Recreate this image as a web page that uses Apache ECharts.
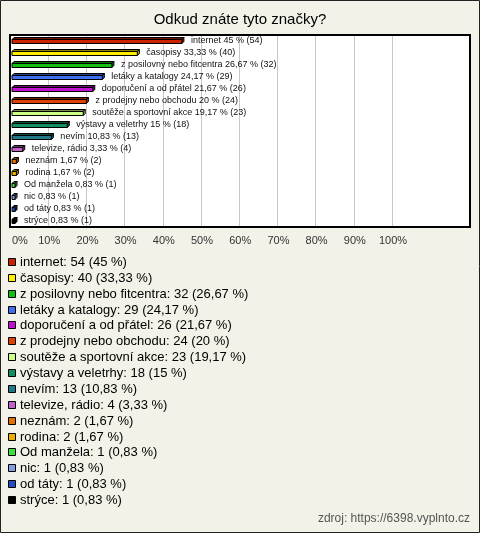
<!DOCTYPE html>
<html><head><meta charset="utf-8">
<script src="https://cdn.jsdelivr.net/npm/echarts@6/dist/echarts.min.js"></script>
<style>html,body{margin:0;padding:0;background:#f2f2e9;}#c{width:480px;height:533px;}</style>
</head><body><div id="c"></div>
<script>
var categories = ["internet","časopisy","z posilovny nebo fitcentra","letáky a katalogy","doporučení a od přátel","z prodejny nebo obchodu","soutěže a sportovní akce","výstavy a veletrhy","nevím","televize, rádio","neznám","rodina","Od manžela","nic","od táty","strýce"];
var counts = [54,40,32,29,26,24,23,18,13,4,2,2,1,1,1,1];
var pctText = ["45","33,33","26,67","24,17","21,67","20","19,17","15","10,83","3,33","1,67","1,67","0,83","0,83","0,83","0,83"];
var pctValues = [45,33.33,26.67,24.17,21.67,20,19.17,15,10.83,3.33,1.67,1.67,0.83,0.83,0.83,0.83];
var colors = ["#cc2200","#ffee00","#11c011","#4070f0","#c010d0","#e04000","#ccff88","#109060","#207888","#c060c8","#e07000","#e8b000","#40e040","#80a0e0","#2050c0","#000000"];
var xTicks = ["0%","10%","20%","30%","40%","50%","60%","70%","80%","90%","100%"];
var title = "Odkud znáte tyto značky?";
var source = "zdroj: https://6398.vyplnto.cz";

var FONT = 'Arial, "Liberation Sans", sans-serif';
function darker(hex, f){
  var n = parseInt(hex.slice(1),16);
  var r=(n>>16)&255,g=(n>>8)&255,b=n&255;
  r=Math.round(r*f);g=Math.round(g*f);b=Math.round(b*f);
  return 'rgb('+r+','+g+','+b+')';
}
var chart = echarts.init(document.getElementById('c'));
var graphics = [
  {type:'rect', shape:{x:0.5,y:0.5,width:479,height:532}, style:{fill:'#f2f2e9',stroke:'#222',lineWidth:1}, z:-10},
  {type:'rect', shape:{x:10,y:35,width:460,height:192}, style:{fill:'#ffffff'}, z:-5},
  {type:'rect', shape:{x:10,y:35,width:460,height:192}, style:{fill:null,stroke:'#000',lineWidth:2}, z:100},
  {type:'text', x:240, y:20, style:{text:title, font:'15px '+FONT, fill:'#000', textAlign:'center', textVerticalAlign:'middle'}},
  {type:'text', x:470, y:519, style:{text:source, font:'12px '+FONT, fill:'#555', textAlign:'right', textVerticalAlign:'middle'}}
];
for (var i=0;i<categories.length;i++){
  var y = 262 + i*15.87;
  graphics.push({type:'rect', shape:{x:8.5,y:Math.round(y)-3.5,width:7,height:7}, style:{fill:colors[i],stroke:'#000',lineWidth:1}});
  graphics.push({type:'text', x:20, y:Math.round(y)+0.5, style:{text:categories[i]+': '+counts[i]+' ('+pctText[i]+' %)', font:'13px '+FONT, fill:'#000', textVerticalAlign:'middle'}});
}
var data = pctValues.map(function(v,i){return [v,i];});
chart.setOption({
  animation:false,
  backgroundColor:'#f2f2e9',
  graphic: graphics,
  grid:{left:10, right:88, top:35, bottom:306},
  xAxis:{type:'value', min:0, max:100, interval:10,
    axisLine:{show:false}, axisTick:{show:false},
    axisLabel:{margin:8, fontSize:11, fontFamily:FONT, color:'#333', alignMinLabel:'left', padding:[0,0,0,2], formatter:function(v){return xTicks[Math.round(v/10)];}},
    splitLine:{show:true, lineStyle:{color:'#c8c8c8', width:1}}},
  yAxis:{type:'category', data:categories, inverse:true, show:false},
  series:[{
    type:'custom',
    data:data,
    encode:{x:0,y:1},
    z:5,
    renderItem:function(params, api){
      var idx = api.value(1);
      var v = api.value(0);
      var p0 = api.coord([0, idx]);
      var p1 = api.coord([v, idx]);
      var d = 2;
      var x0 = p0[0]+2, x1 = Math.max(p1[0], x0+3);
      var cy = Math.round(p0[1]);
      var top = cy-1.5, bot = cy+2.5;
      var c = colors[idx];
      var st = {stroke:'#000', lineWidth:1};
      return {type:'group', children:[
        {type:'polygon', shape:{points:[[x0,top],[x0+d,top-d],[x1+d,top-d],[x1,top]]}, style:Object.assign({fill:darker(c,0.55)},st)},
        {type:'polygon', shape:{points:[[x1,top],[x1+d,top-d],[x1+d,bot-d],[x1,bot]]}, style:Object.assign({fill:darker(c,0.7)},st)},
        {type:'rect', shape:{x:x0,y:top,width:x1-x0,height:bot-top}, style:Object.assign({fill:c},st)},
        {type:'text', x:x1+d+7, y:cy, style:{text:categories[idx]+' '+pctText[idx]+' % ('+counts[idx]+')', font:'9px '+FONT, fill:'#111', textVerticalAlign:'middle'}}
      ]};
    }
  }]
});
</script></body></html>
